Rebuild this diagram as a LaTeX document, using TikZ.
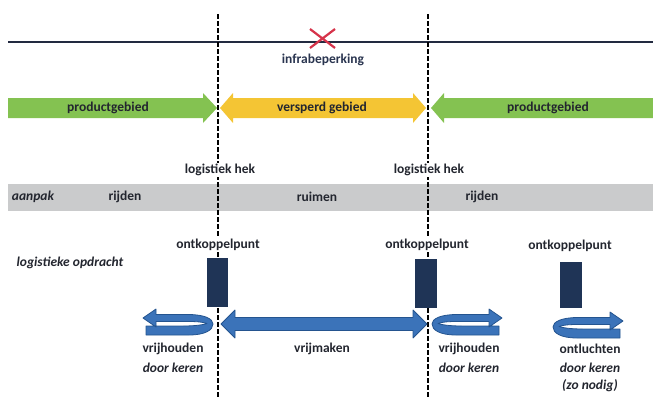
\documentclass[tikz,border=0pt]{standalone}
\usepackage{fontspec}
\setmainfont{Carlito}
\begin{document}
\begin{tikzpicture}[x=1pt,y=-1pt,
  txt/.style={font=\fontsize{13.5}{15}\selectfont\bfseries, text=txtc, inner sep=1pt},
  itxt/.style={txt, font=\fontsize{13.5}{15}\selectfont\bfseries\itshape},
  wbg/.style={fill=white, inner sep=1.5pt},
  gate/.style={draw=black, line width=1.4pt, dash pattern=on 4.5pt off 2.5pt},
  blk/.style={fill=navyblk, draw=none},
  blue/.style={fill=arrowblue, draw=arrowedge, line width=0.8pt, line join=round},
  pics/uturn/.style={code={
    \path[blue] (-70,-6) -- (-57,-15) -- (-57,-9.5) -- (-25,-9.5)
      .. controls (-8,-9.5) and (0,-5) .. (0,0)
      .. controls (0,6) and (-8,11) .. (-24,11) -- (-67,11) -- (-67,2) -- (-30,2)
      .. controls (-16,2) and (-9,0.5) .. (-6,-0.5)
      .. controls (-10,-2) and (-16,-2.5) .. (-25,-2.5) -- (-57,-2.5) -- (-57,3) -- cycle;
  }}
]
\definecolor{txtc}{HTML}{23262F}
\definecolor{navytxt}{HTML}{2A3550}
\definecolor{navyblk}{HTML}{1F3456}
\definecolor{arrowblue}{HTML}{3B73B9}
\definecolor{arrowedge}{HTML}{24548F}
\definecolor{greenA}{HTML}{84C251}
\definecolor{yellowA}{HTML}{F4C534}
\definecolor{bandgray}{HTML}{CACBCC}
\definecolor{redX}{HTML}{D6334A}
\useasboundingbox (0,0) rectangle (653,399);

% gray band
\fill[bandgray] (8,184) rectangle (653,211);

% top line
\draw[line width=1.5pt, draw=navytxt!80!black] (8,42) -- (653,42);

% logistic gates (dashed lines)
\coordinate (g1top) at (218,14);
\coordinate (g1bot) at (218,399);
\coordinate (g2top) at (428,14);
\coordinate (g2bot) at (428,399);
\draw[gate] (g1top) -- (g1bot);
\draw[gate] (g2top) -- (g2bot);

% red cross
\draw[redX, line width=2.2pt] (310,29) -- (335,48) (310,48) -- (335,29);
\node[txt, text=navytxt] (infra) at (323,60) {infrabeperking};

% area arrows
\fill[greenA] (8,98) -- (203,98) -- (203,93) -- (217,108) -- (203,123) -- (203,118) -- (8,118) -- cycle;
\fill[yellowA] (220,108) -- (233,93) -- (233,98) -- (413,98) -- (413,93) -- (426,108) -- (413,123) -- (413,118) -- (233,118) -- (233,123) -- cycle;
\fill[greenA] (431,108) -- (444,93) -- (444,98) -- (653,98) -- (653,118) -- (444,118) -- (444,123) -- cycle;
\node[txt] (pg1) at (108,108) {productgebied};
\node[txt] (vg) at (322,108) {versperd gebied};
\node[txt] (pg2) at (548,108) {productgebied};

% logistiek hek
\node[txt, wbg] (hek1) at (220,170) {logistiek hek};
\node[txt, wbg] (hek2) at (429,170) {logistiek hek};

% aanpak band
\node[itxt] (aanpak) at (33,197) {aanpak};
\node[txt] (rij1) at (125,197) {rijden};
\node[txt] (ruim) at (317,197) {ruimen};
\node[txt] (rij2) at (482,197) {rijden};

% ontkoppelpunten
\node[txt, wbg] (ok1) at (218,245) {ontkoppelpunt};
\node[txt, wbg] (ok2) at (427,245) {ontkoppelpunt};
\node[txt] (ok3) at (570,246) {ontkoppelpunt};
\node[itxt] (lo) at (70,263) {logistieke opdracht};
\fill[blk] (207,258) rectangle (228,307);
\fill[blk] (415,259) rectangle (437,308);
\fill[blk] (560,262) rectangle (582,308);

% blue arrows
\pic at (213,324) {uturn};
\pic[xscale=-1] at (432,324) {uturn};
\pic[xscale=-1] at (553,327) {uturn};
\path[blue] (221,324) -- (235,310) -- (235,317.5) -- (413,317.5) -- (413,310) -- (427,324)
  -- (413,338) -- (413,330.5) -- (235,330.5) -- (235,338) -- cycle;

% bottom labels
\node[txt] (vh1) at (173,349) {vrijhouden};
\node[itxt] (dk1) at (173,368) {door keren};
\node[txt] (vm) at (322,349) {vrijmaken};
\node[txt] (vh2) at (469,349) {vrijhouden};
\node[itxt] (dk2) at (469,368) {door keren};
\node[txt] (ol) at (590,349) {ontluchten};
\node[itxt] (dk3) at (590,368) {door keren};
\node[itxt] (zn) at (590,386) {(zo nodig)};
\end{tikzpicture}
\end{document}
